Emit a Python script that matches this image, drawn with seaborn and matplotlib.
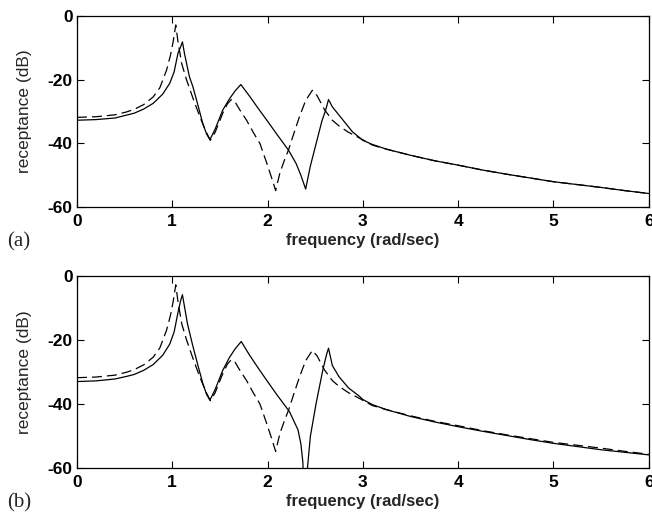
import matplotlib
matplotlib.use("Agg")
import matplotlib.pyplot as plt
import seaborn as sns
import pandas as pd

# Receptance curves (dB) against frequency (rad/sec)
# dashed curve, same in both panels
freq_dashed = [0.0, 0.2, 0.4, 0.52, 0.6, 0.7, 0.8, 0.87, 0.94, 0.98, 1.01, 1.037,
               1.06, 1.10, 1.15, 1.22, 1.29, 1.35, 1.40, 1.45, 1.53, 1.58, 1.62,
               1.66, 1.71, 1.78, 1.85, 1.92, 1.99, 2.04, 2.085, 2.13, 2.18, 2.22,
               2.28, 2.335, 2.40, 2.47, 2.52, 2.60, 2.68, 2.75, 2.85, 2.96, 3.1,
               3.25, 3.5, 3.75, 4.0, 4.25, 4.5, 4.75, 5.0, 5.25, 5.5, 5.75, 6.0]
db_dashed = [-31.8, -31.6, -31.0, -30.1, -29.3, -27.8, -25.4, -22.5, -17.0, -12.5, -8.0, -2.8,
             -8.0, -15.0, -20.0, -26.0, -31.6, -36.0, -39.0, -36.5, -30.5, -27.5, -26.2,
             -27.0, -29.5, -32.7, -36.5, -40.0, -46.0, -50.5, -54.8, -49.2, -45.0, -42.0,
             -36.5, -31.6, -26.5, -23.3, -25.0, -29.5, -32.7, -34.5, -36.5, -38.2, -40.5,
             -41.8, -43.7, -45.4, -46.8, -48.3, -49.6, -50.8, -52.0, -52.9, -53.8, -54.8, -55.7]

# solid curve, panel (a)
freq_solid_a = [0.0, 0.2, 0.4, 0.52, 0.6, 0.7, 0.8, 0.9, 0.974, 1.02, 1.06, 1.09, 1.107,
                1.13, 1.18, 1.217, 1.27, 1.32, 1.36, 1.395, 1.45, 1.53, 1.60, 1.66, 1.72,
                1.81, 1.9, 2.0, 2.1, 2.22, 2.30, 2.35, 2.40, 2.45, 2.51, 2.57, 2.61, 2.64,
                2.68, 2.75, 2.89, 3.0, 3.1, 3.25, 3.5, 3.75, 4.0, 4.25, 4.5, 4.75, 5.0,
                5.25, 5.5, 5.75, 6.0]
db_solid_a = [-32.7, -32.5, -32.0, -31.1, -30.5, -29.2, -27.4, -24.5, -21.1, -17.5, -11.7, -9.5, -8.1,
              -12.0, -19.0, -22.2, -28.0, -33.7, -37.0, -38.8, -35.5, -29.5, -26.0, -23.5, -21.5,
              -25.1, -28.9, -33.0, -37.2, -42.1, -46.3, -50.0, -54.3, -47.0, -40.0, -33.0, -29.5, -26.2,
              -28.5, -31.1, -36.3, -39.0, -40.3, -41.8, -43.7, -45.4, -46.8, -48.3, -49.6, -50.8, -52.0,
              -52.9, -53.8, -54.8, -55.7]

# solid curve, panel (b)
freq_solid_b = [0.0, 0.2, 0.4, 0.52, 0.6, 0.7, 0.8, 0.9, 0.974, 1.02, 1.06, 1.09, 1.107,
                1.125, 1.16, 1.217, 1.27, 1.32, 1.36, 1.395, 1.45, 1.53, 1.60, 1.66, 1.724,
                1.81, 1.9, 2.0, 2.1, 2.23, 2.32, 2.35, 2.37, 2.395, 2.40, 2.45, 2.51, 2.58,
                2.62, 2.64, 2.68, 2.75, 2.85, 2.96, 3.0, 3.1, 3.25, 3.5, 3.75, 4.0, 4.25,
                4.5, 4.75, 5.0, 5.25, 5.5, 5.75, 6.0]
db_solid_b = [-33.0, -32.8, -32.2, -31.4, -30.8, -29.5, -27.7, -24.8, -21.3, -17.5, -11.5, -7.5, -5.9,
              -9.0, -15.0, -22.0, -28.0, -33.5, -37.0, -38.8, -35.5, -29.5, -25.5, -22.8, -20.5,
              -24.7, -28.7, -33.0, -37.2, -42.4, -48.1, -52.5, -58.0, -75.0, -66.0, -50.0, -39.8, -29.4,
              -24.5, -22.6, -28.0, -31.5, -35.0, -37.5, -38.6, -40.2, -41.8, -43.9, -45.6, -47.1, -48.5,
              -49.8, -51.1, -52.3, -53.3, -54.3, -55.1, -55.9]

panel_tags = ["(a)", "(b)"]
x_ticks = [0, 1, 2, 3, 4, 5, 6]
y_ticks = [-60, -40, -20, 0]

sns.set_style("ticks")
plt.rcParams["font.family"] = ["Liberation Sans", "DejaVu Sans"]

fig = plt.figure(figsize=(6.52, 5.18), dpi=100)
axes = [fig.add_axes([0.118, 0.600, 0.877, 0.369]),
        fig.add_axes([0.118, 0.0965, 0.877, 0.371])]
solids = [(freq_solid_a, db_solid_a), (freq_solid_b, db_solid_b)]
tag_y = [1 - 242 / 518, 1 - 503 / 518]

for ax, (fs, ds), tag, ty in zip(axes, solids, panel_tags, tag_y):
    df_s = pd.DataFrame({"f": fs, "db": ds})
    df_d = pd.DataFrame({"f": freq_dashed, "db": db_dashed})
    sns.lineplot(data=df_d, x="f", y="db", ax=ax, color="black", linewidth=0.9,
                 estimator=None, sort=False)
    ax.lines[-1].set_dashes([8, 4])
    sns.lineplot(data=df_s, x="f", y="db", ax=ax, color="black", linewidth=0.9,
                 estimator=None, sort=False)
    ax.set_xlim(0, 6)
    ax.set_ylim(-60, 0)
    ax.set_xticks(x_ticks)
    ax.set_yticks(y_ticks)
    ax.set_xticklabels([str(t) for t in x_ticks], fontsize=12.5, fontweight="bold")
    ax.set_yticklabels([str(t) for t in y_ticks], fontsize=12.5, fontweight="bold")
    ax.tick_params(axis="both", direction="in", length=5, width=0.8, top=True, right=True,
                   colors="black")
    ax.tick_params(axis="x", pad=5)
    ax.tick_params(axis="y", pad=3)
    for sp in ax.spines.values():
        sp.set_visible(True)
        sp.set_linewidth(0.9)
        sp.set_color("black")
    ax.set_xlabel("frequency (rad/sec)", fontsize=12, fontweight="bold", labelpad=3)
    ax.set_ylabel("receptance (dB)", fontsize=12.5, labelpad=11)
    fig.text(0.011, ty, tag, fontsize=15, family=["Liberation Serif", "DejaVu Serif"],
             va="center", ha="left")

fig.savefig("out.png", dpi=100)
